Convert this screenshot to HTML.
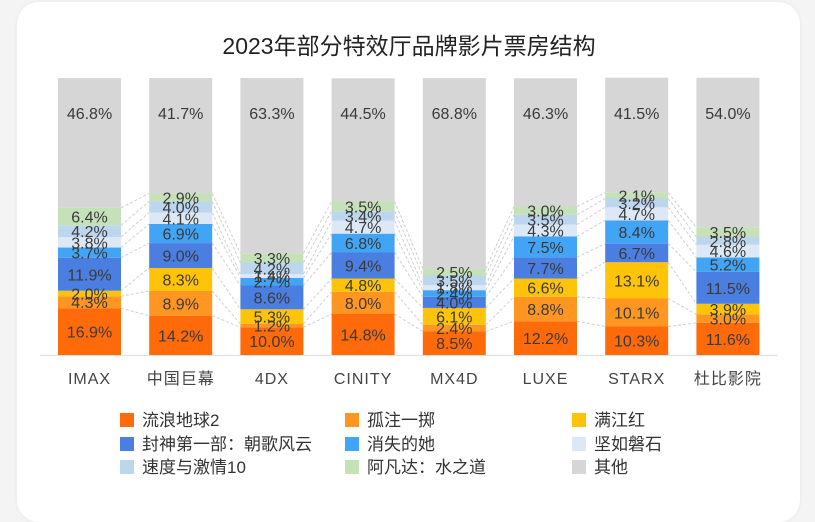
<!DOCTYPE html>
<html><head><meta charset="utf-8">
<style>
body{margin:0;width:815px;height:501px;background:#f4f4f4;overflow:hidden;font-family:"Liberation Sans","Noto Sans CJK SC",sans-serif;}
#card{position:absolute;left:17px;top:2px;width:783px;height:520px;background:#fff;border-radius:22px;box-shadow:0 0 4px rgba(0,0,0,0.06);}
svg{position:absolute;left:0;top:0;}
</style></head><body>
<div id="card"></div>
<svg id="chart" width="815" height="501"></svg>
<script>
const categories=["IMAX","中国巨幕","4DX","CINITY","MX4D","LUXE","STARX","杜比影院"];
const seriesNames=["流浪地球2","孤注一掷","满江红","封神第一部：朝歌风云","消失的她","坚如磐石","速度与激情10","阿凡达：水之道","其他"];
const s_liulang=[16.9,14.2,10.0,14.8,8.5,12.2,10.3,11.6];
const s_guzhu=[4.3,8.9,1.2,8.0,2.4,8.8,10.1,3.0];
const s_manjiang=[2.0,8.3,5.3,4.8,6.1,6.6,13.1,3.9];
const s_fengshen=[11.9,9.0,8.6,9.4,4.0,7.7,6.7,11.5];
const s_xiaoshi=[3.7,6.9,2.7,6.8,2.4,7.5,8.4,5.2];
const s_jianru=[3.8,4.1,1.4,4.7,1.8,4.3,4.7,4.6];
const s_sudu=[4.2,4.0,4.2,3.4,3.5,3.5,3.2,2.8];
const s_afanda=[6.4,2.9,3.3,3.5,2.5,3.0,2.1,3.5];
const s_other=[46.8,41.7,63.3,44.5,68.8,46.3,41.5,54.0];
const series=[s_liulang,s_guzhu,s_manjiang,s_fengshen,s_xiaoshi,s_jianru,s_sudu,s_afanda,s_other];
const colors=["#ff6a0a","#ff9621","#ffc30a","#4a7ee0","#42a4f5","#dde8f6","#bcd6ee","#c5e1b7","#d6d6d6"];
const NS="http://www.w3.org/2000/svg";
const svg=document.getElementById('chart');
const plotTop=78,plotBottom=355,barW=63,x0=58,step=91.2;
function xPos(i){return x0+i*step;}
function yPos(v){return plotBottom-(v/100)*(plotBottom-plotTop);}
function mk(tag,attrs){const e=document.createElementNS(NS,tag);for(const k in attrs)e.setAttribute(k,attrs[k]);svg.appendChild(e);return e;}
let t=mk('text',{x:409,y:54,'text-anchor':'middle','font-size':23,fill:'#222'});
t.textContent="2023年部分特效厅品牌影片票房结构";


const cum=categories.map((c,i)=>{let a=[0];let s=0;series.forEach(se=>{s+=se[i];a.push(s);});return a;});
for(let i=0;i<categories.length-1;i++){
  for(let k=1;k<series.length;k++){
    let l=mk('line',{x1:xPos(i)+barW,y1:yPos(cum[i][k]),x2:xPos(i+1),y2:yPos(cum[i+1][k]),stroke:'#cfcfcf','stroke-width':1,'stroke-dasharray':'3,2'});
    
    
  }
}
categories.forEach((c,i)=>{
  series.forEach((se,k)=>{
    const y1=yPos(cum[i][k+1]),y0=yPos(cum[i][k]);
    let r=mk('rect',{x:xPos(i),y:y1,width:barW,height:Math.max(0,y0-y1),fill:colors[k]});
    
    
  });
  series.forEach((se,k)=>{
    let yc=(yPos(cum[i][k+1])+yPos(cum[i][k]))/2;
    if(k===series.length-1) yc=plotTop+35;
    let tx=mk('text',{x:xPos(i)+barW/2,y:yc+6,'text-anchor':'middle','font-size':16,fill:'#3a3a3a'});
    tx.textContent=se[i].toFixed(1)+"%";
    
    
  });
  let lb=mk('text',{x:xPos(i)+barW/2,y:384,'text-anchor':'middle','font-size':16,fill:'#444','letter-spacing':'1'});
  lb.textContent=c;
  
  
});
let ax=mk('line',{x1:40,y1:plotBottom+0.5,x2:778,y2:plotBottom+0.5,stroke:'#e0e0e0','stroke-width':1});


const legX=[120,345,572],legY=[420,444,467];
seriesNames.forEach((n,k)=>{
  const cx=legX[k%3],cy=legY[Math.floor(k/3)];
  let sq=mk('rect',{x:cx,y:cy-7,width:14,height:14,fill:colors[k]});
  
  
  let lt=mk('text',{x:cx+22,y:cy+6,'font-size':17,fill:'#333'});
  lt.textContent=n;
  
  
});
</script>
</body></html>
